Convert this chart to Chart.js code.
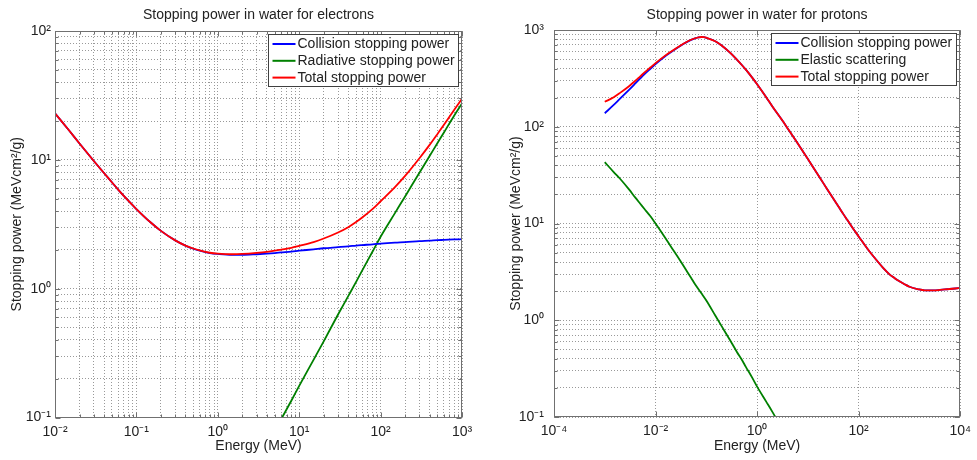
<!DOCTYPE html>
<html>
<head>
<meta charset="utf-8">
<script src="https://cdn.jsdelivr.net/npm/chart.js@4.4.1/dist/chart.umd.min.js"></script>
<style>
  body { margin: 0; background: #fff; }
  #wrap { position: relative; width: 977px; height: 460px; }
  canvas { position: absolute; top: 0; }
</style>
</head>
<body>
<div id="wrap">
  <canvas id="electrons" width="488" height="460" style="left:0"></canvas>
  <canvas id="protons" width="489" height="460" style="left:488px"></canvas>
</div>
<script>
// electrons in water (MeV, MeV cm2/g)
const elecEnergy = [0.01, 0.015, 0.02, 0.03, 0.04, 0.05, 0.06, 0.08,
  0.1, 0.15, 0.2, 0.3, 0.4, 0.5, 0.6, 0.8,
  1, 1.5, 2, 3, 4, 5, 6, 8,
  10, 15, 20, 30, 40, 50, 60, 80,
  100, 150, 200, 300, 400, 500, 600, 800, 1000];
const elecCollision = [23.0, 16.8, 13.4, 9.8, 7.9, 6.7, 5.85, 4.8,
  4.15, 3.26, 2.81, 2.37, 2.16, 2.04, 1.97, 1.89,
  1.86, 1.83, 1.83, 1.85, 1.87, 1.89, 1.91, 1.94,
  1.97, 2.02, 2.06, 2.10, 2.13, 2.16, 2.18, 2.21,
  2.24, 2.28, 2.30, 2.34, 2.36, 2.38, 2.39, 2.41, 2.42];
const elecRadEnergy = [4, 5, 6, 8, 10, 15, 20, 30, 40, 50, 60, 80, 100, 150, 200, 300, 400, 500, 600, 800, 1000];
const elecRadiative = [0.062, 0.080, 0.097, 0.135, 0.176, 0.28, 0.39, 0.63, 0.875, 1.13, 1.40, 1.95, 2.53, 3.86, 5.2, 7.95, 10.7, 13.5, 16.3, 22.0, 27.4];
const elecTotal = [23.0, 16.8, 13.4, 9.8, 7.9, 6.7, 5.85, 4.8,
  4.15, 3.26, 2.81, 2.37, 2.16, 2.05, 1.98, 1.90,
  1.87, 1.85, 1.86, 1.895, 1.93, 1.97, 2.01, 2.075,
  2.15, 2.30, 2.45, 2.73, 3.0, 3.29, 3.58, 4.16,
  4.77, 6.14, 7.5, 10.29, 13.06, 15.88, 18.69, 24.41, 29.82];

// protons in water
const protEnergy = [0.001, 0.0015, 0.002, 0.003, 0.004, 0.005, 0.006, 0.008,
  0.01, 0.015, 0.02, 0.03, 0.04, 0.05, 0.06, 0.07, 0.08, 0.09,
  0.1, 0.15, 0.2, 0.3, 0.4, 0.5, 0.6, 0.8,
  1, 1.5, 2, 3, 4, 5, 6, 8,
  10, 15, 20, 30, 40, 50, 60, 80,
  100, 150, 200, 300, 400, 500, 600, 800,
  1000, 1500, 2000, 3000, 4000, 5000, 6000, 8000, 10000];
const protCollision = [138, 168, 195, 240, 280, 316, 348, 400,
  445, 530, 590, 680, 745, 790, 820, 838, 845, 843,
  830, 765, 692, 577, 495, 435, 389, 322,
  275, 203, 162, 120, 96, 80.5, 70, 55.5,
  46.3, 33.2, 26.3, 18.9, 15.0, 12.5, 10.85, 8.65,
  7.35, 5.45, 4.5, 3.5, 3.0, 2.75, 2.57, 2.36,
  2.22, 2.09, 2.04, 2.04, 2.06, 2.08, 2.10, 2.13, 2.15];
const protElasticEnergy = [0.001, 0.0015, 0.002, 0.003, 0.004, 0.005, 0.006, 0.008,
  0.01, 0.015, 0.02, 0.03, 0.04, 0.05, 0.06, 0.08,
  0.1, 0.15, 0.2, 0.3, 0.4, 0.5, 0.6, 0.8, 1, 1.5, 2, 3];
const protElastic = [43, 34, 29, 22.5, 18.5, 16, 14.2, 11.8,
  10, 7.3, 5.8, 4.2, 3.3, 2.75, 2.35, 1.9,
  1.6, 1.12, 0.87, 0.61, 0.47, 0.39, 0.33, 0.255, 0.206, 0.145, 0.113, 0.078];
const protTotal = [181, 202, 224, 262.5, 298.5, 332, 362, 412,
  455, 537, 596, 684, 748, 793, 822, 840, 847, 845,
  832, 766, 693, 578, 495, 435, 389, 322,
  275, 203, 162, 120, 96, 80.5, 70, 55.5,
  46.3, 33.2, 26.3, 18.9, 15.0, 12.5, 10.85, 8.65,
  7.35, 5.45, 4.5, 3.5, 3.0, 2.75, 2.57, 2.36,
  2.22, 2.09, 2.04, 2.04, 2.06, 2.08, 2.10, 2.13, 2.15];

// decades that carry a tick label
const elecDecadesX = [-2, -1, 0, 1, 2, 3];
const elecDecadesY = [-1, 0, 1, 2];
const protDecadesX = [-4, -2, 0, 2, 4];
const protDecadesY = [-1, 0, 1, 2, 3];

const FONT = '"Liberation Sans", Arial, Helvetica, sans-serif';
Chart.defaults.font.family = FONT;
Chart.defaults.font.size = 14;
Chart.defaults.color = '#222';

const sup = { '-': '\u207B', '0': '\u2070', '1': '\u00B9', '2': '\u00B2', '3': '\u00B3', '4': '\u2074' };
const decadeLabel = e => '10' + String(e).split('').map(c => sup[c]).join('');
const isDecade = v => Math.abs(Math.log10(v) - Math.round(Math.log10(v))) < 1e-9;

function gridValues(decades, minor) {
  const vals = [];
  decades.forEach((e, i) => {
    vals.push(Math.pow(10, e));
    if (minor && i < decades.length - 1) {
      for (let m = 2; m <= 9; m++) vals.push(m * Math.pow(10, e));
    }
  });
  return vals;
}

const pts = (xs, ys) => xs.map((x, i) => ({ x: x, y: ys[i] }));

function logAxis(decades, minor, size, title, tickPad, titlePad) {
  const vals = gridValues(decades, minor);
  return {
    type: 'logarithmic',
    min: Math.pow(10, decades[0]),
    max: Math.pow(10, decades[decades.length - 1]),
    afterBuildTicks: s => { s.ticks = vals.map(v => ({ value: v })); },
    afterFit: s => { if (s.isHorizontal()) s.height = size; else s.width = size; },
    grid: { color: '#999', lineWidth: 1, drawTicks: false },
    border: { display: false, dash: [1, 2] },
    ticks: {
      autoSkip: false, maxRotation: 0, minRotation: 0, padding: tickPad, color: '#222',
      callback: v => isDecade(v) ? decadeLabel(Math.round(Math.log10(v))) : ''
    },
    title: { display: true, text: title, color: '#222', padding: titlePad }
  };
}

// box, inward tick marks and legend inside the plot, matlab style
const boxPlugin = {
  id: 'boxLegend',
  afterDraw(chart) {
    const a = chart.chartArea, ctx = chart.ctx;
    const L = Math.round(a.left) + 0.5, R = Math.round(a.right) - 0.5;
    const T = Math.round(a.top) + 0.5, B = Math.round(a.bottom) - 0.5;
    ctx.save();
    ctx.strokeStyle = '#707070';
    ctx.lineWidth = 1;
    ctx.beginPath();
    chart.scales.x.ticks.forEach(t => {
      const p = Math.round(chart.scales.x.getPixelForValue(t.value)) + 0.5;
      const len = isDecade(t.value) ? 5 : 3;
      ctx.moveTo(p, B); ctx.lineTo(p, B - len);
      ctx.moveTo(p, T); ctx.lineTo(p, T + len);
    });
    chart.scales.y.ticks.forEach(t => {
      const p = Math.round(chart.scales.y.getPixelForValue(t.value)) + 0.5;
      const len = isDecade(t.value) ? 5 : 3;
      ctx.moveTo(L, p); ctx.lineTo(L + len, p);
      ctx.moveTo(R, p); ctx.lineTo(R - len, p);
    });
    ctx.stroke();
    ctx.strokeRect(L, T, R - L, B - T);

    ctx.font = '14px ' + FONT;
    const sets = chart.data.datasets;
    const textW = Math.max(...sets.map(d => ctx.measureText(d.label).width));
    const w = Math.round(textW + 33), h = 52;
    const x = Math.round(a.right - 4 - w) + 0.5, y = Math.round(a.top + 3) + 0.5;
    ctx.fillStyle = '#fff';
    ctx.fillRect(x, y, w, h);
    ctx.strokeStyle = '#404040';
    ctx.strokeRect(x, y, w, h);
    ctx.textBaseline = 'middle';
    sets.forEach((d, i) => {
      const ly = y + 9.5 + i * 16.8;
      ctx.strokeStyle = d.borderColor;
      ctx.lineWidth = 2;
      ctx.beginPath(); ctx.moveTo(x + 4, ly); ctx.lineTo(x + 27, ly); ctx.stroke();
      ctx.fillStyle = '#222';
      ctx.fillText(d.label, x + 29, ly + 0.5);
    });
    ctx.restore();
  }
};

function line(label, data, color, order) {
  return { label: label, data: data, borderColor: color, backgroundColor: color, borderWidth: 1.8,
    pointRadius: 0, cubicInterpolationMode: 'monotone', order: order };
}

function makeChart(id, title, datasets, xAxis, yAxis, padRight, titlePad) {
  return new Chart(document.getElementById(id), {
    type: 'line',
    data: { datasets: datasets },
    options: {
      responsive: false,
      animation: false,
      layout: { padding: { left: 0, right: padRight, top: 0, bottom: 0 } },
      scales: { x: xAxis, y: yAxis },
      plugins: {
        legend: { display: false },
        tooltip: { enabled: false },
        title: { display: true, text: title, fullSize: false, color: '#222',
          font: { size: 14, weight: 'normal' }, padding: titlePad }
      }
    },
    plugins: [boxPlugin]
  });
}

makeChart('electrons', 'Stopping power in water for electrons', [
    line('Collision stopping power', pts(elecEnergy, elecCollision), '#0000ff', 1),
    line('Radiative stopping power', pts(elecRadEnergy, elecRadiative), '#008000', 2),
    line('Total stopping power', pts(elecEnergy, elecTotal), '#ff0000', 0)
  ],
  logAxis(elecDecadesX, true, 42.5, 'Energy (MeV)', 6, { top: 0, bottom: 5 }),
  logAxis(elecDecadesY, true, 55, 'Stopping power (MeVcm\u00B2/g)', 4, { top: 9, bottom: 0 }),
  26, { top: 7, bottom: 7.2 });

makeChart('protons', 'Stopping power in water for protons', [
    line('Collision stopping power', pts(protEnergy, protCollision), '#0000ff', 1),
    line('Elastic scattering', pts(protElasticEnergy, protElastic), '#008000', 2),
    line('Total stopping power', pts(protEnergy, protTotal), '#ff0000', 0)
  ],
  logAxis(protDecadesX, false, 43, 'Energy (MeV)', 6, { top: 0, bottom: 5 }),
  logAxis(protDecadesY, true, 66, 'Stopping power (MeVcm\u00B2/g)', 10, { top: 19.5, bottom: 0 }),
  15, { top: 7, bottom: 6.2 });
</script>
</body>
</html>
